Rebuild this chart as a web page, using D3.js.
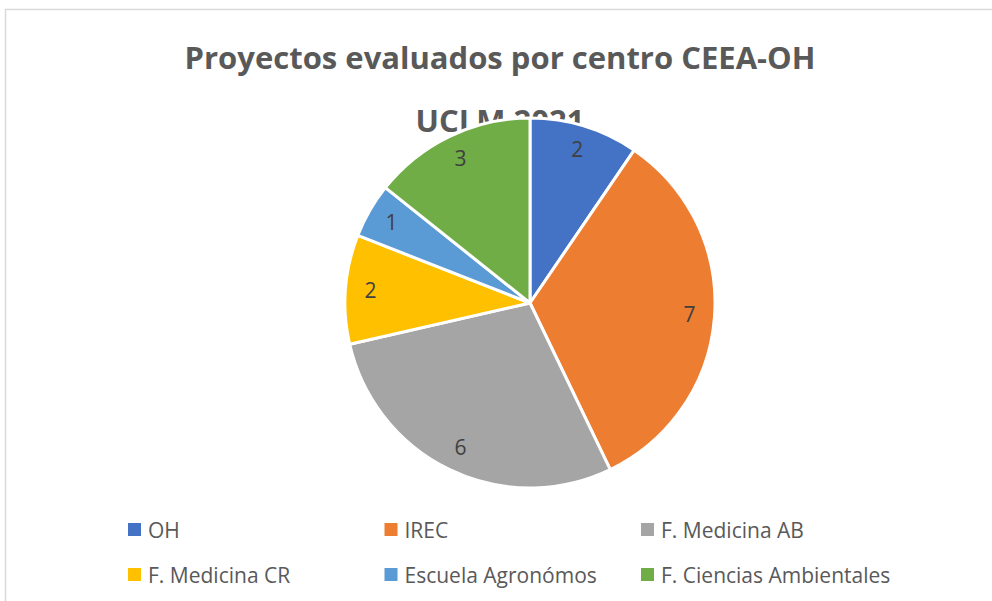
<!DOCTYPE html>
<html>
<head>
<meta charset="utf-8">
<script src="https://cdn.jsdelivr.net/npm/d3@7"></script>
<style>
  body { margin: 0; background: #fff; }
  svg { display: block; }
</style>
</head>
<body>
<div id="chart"></div>
<script>
// Size of the page
var width = 992, height = 601;

// Data
var centros = ["OH", "IREC", "F. Medicina AB", "F. Medicina CR", "Escuela Agronómos", "F. Ciencias Ambientales"];
var proyectos = [2, 7, 6, 2, 1, 3];
var colores = ["#4472C4", "#ED7D31", "#A5A5A5", "#FFC000", "#5B9BD5", "#70AD47"];
var titulo = ["Proyectos evaluados por centro CEEA-OH", "UCLM 2021"];

var font = "'Open Sans', 'Noto Sans', sans-serif";

var svg = d3.select("#chart").append("svg")
    .attr("width", width)
    .attr("height", height);

// chart area border (only top and left visible)
svg.append("path")
    .attr("d", "M5.5," + height + "V9.5H" + width)
    .attr("fill", "none")
    .attr("stroke", "#d9d9d9")
    .attr("stroke-width", 1.5);

// Title (two lines, second one is partly hidden behind the pie)
svg.append("g")
    .selectAll("text")
    .data(titulo)
    .join("text")
    .attr("x", 500)
    .attr("y", (d, i) => 69 + i * 63)
    .attr("text-anchor", "middle")
    .attr("font-family", font)
    .attr("font-weight", "bold")
    .attr("font-size", 31)
    .attr("fill", "#595959")
    .text(d => d);

// Pie
var cx = 530, cy = 303, radius = 185;

var color = d3.scaleOrdinal().domain(centros).range(colores);

var pie = d3.pie().sort(null).value(d => d.value);
var arc = d3.arc().innerRadius(0).outerRadius(radius);
var labelArc = d3.arc().innerRadius(160).outerRadius(160);

var datos = centros.map((c, i) => ({ name: c, value: proyectos[i] }));

var g = svg.append("g").attr("transform", "translate(" + cx + "," + cy + ")");

g.selectAll(".slice")
    .data(pie(datos))
    .join("path")
    .attr("class", "slice")
    .attr("d", arc)
    .attr("fill", d => color(d.data.name))
    .attr("stroke", "#fff")
    .attr("stroke-width", 3)
    .attr("stroke-linejoin", "round");

g.selectAll(".label")
    .data(pie(datos))
    .join("text")
    .attr("class", "label")
    .attr("transform", d => "translate(" + labelArc.centroid(d) + ")")
    .attr("text-anchor", "middle")
    .attr("dy", "0.35em")
    .attr("font-family", font)
    .attr("font-size", 21)
    .attr("fill", "#404040")
    .text(d => d.data.value);

// Legend, 3 columns x 2 rows
var legX = d3.scalePoint().domain([0, 1, 2]).range([128, 641]);
var legY = d3.scalePoint().domain([0, 1]).range([530, 575]);

var leg = svg.append("g")
    .selectAll("g")
    .data(centros)
    .join("g")
    .attr("transform", (d, i) => "translate(" + legX(i % 3) + "," + legY(Math.floor(i / 3)) + ")");

leg.append("rect")
    .attr("x", 0)
    .attr("y", -7)
    .attr("width", 13)
    .attr("height", 13)
    .attr("fill", d => color(d));

leg.append("text")
    .attr("x", 20)
    .attr("y", 1)
    .attr("dy", "0.35em")
    .attr("font-family", font)
    .attr("font-size", 21)
    .attr("fill", "#595959")
    .text(d => d);
</script>
</body>
</html>
